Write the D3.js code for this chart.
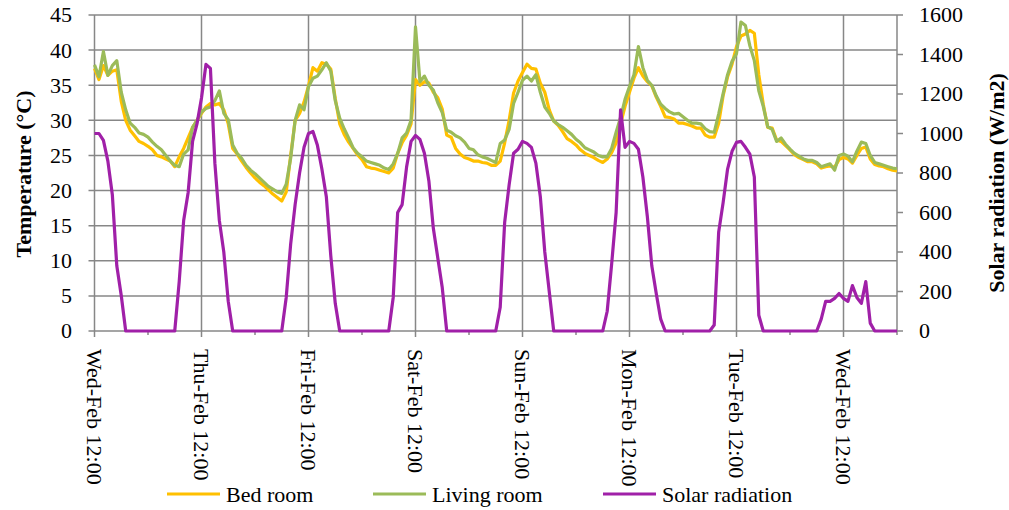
<!DOCTYPE html>
<html>
<head>
<meta charset="utf-8">
<script src="https://cdn.jsdelivr.net/npm/d3@7"></script>
<style>
  body { margin: 0; background: #fff; }
</style>
</head>
<body>
<svg id="chart" width="1009" height="510"></svg>
<script>
// hourly readings, starting Wed-Feb 12:00
const dayLabels = ["Wed-Feb 12:00", "Thu-Feb 12:00", "Fri-Feb 12:00", "Sat-Feb 12:00",
                   "Sun-Feb 12:00", "Mon-Feb 12:00", "Tue-Feb 12:00", "Wed-Feb 12:00"];
const tempTicks = [0, 5, 10, 15, 20, 25, 30, 35, 40, 45];
const solarTicks = [0, 200, 400, 600, 800, 1000, 1200, 1400, 1600];
const stepHours = 1;

const bedRoom = [
  37.4, 35.8, 37.8, 36.4, 37.0, 37.2, 32.7, 30.0, 28.6, 27.8, 27.0, 26.7, 26.3, 25.8, 25.0, 24.8, 24.5, 24.2, 23.4, 24.8, 26.0, 27.5, 29.0, 30.0,
  31.0, 31.9, 32.4, 32.2, 32.4, 31.5, 29.5, 26.0, 25.2, 24.2, 23.3, 22.5, 21.8, 21.2, 20.7, 20.1, 19.5, 19.0, 18.5, 19.8, 25.0, 30.0, 31.0, 32.6,
  34.9, 37.5, 37.0, 38.2, 38.0, 37.3, 33.1, 29.5, 28.0, 26.9, 26.0, 25.1, 24.4, 23.4, 23.2, 23.1, 22.9, 22.7, 22.5, 23.2, 25.3, 26.8, 27.9, 29.5,
  35.8, 35.0, 35.5, 35.3, 34.0, 33.2, 31.6, 27.9, 27.6, 26.0, 25.2, 24.7, 24.5, 24.2, 24.2, 24.0, 23.9, 23.6, 23.6, 24.2, 26.8, 30.0, 33.9, 35.6,
  36.8, 38.0, 37.4, 37.3, 35.3, 34.0, 31.5, 29.9, 29.3, 28.4, 27.4, 27.0, 26.5, 25.8, 25.3, 25.0, 24.7, 24.3, 24.0, 24.5, 25.4, 26.8, 29.5, 32.0,
  34.0, 36.0, 37.5, 36.3, 35.5, 34.9, 33.3, 32.0, 30.5, 30.4, 30.2, 29.6, 29.6, 29.4, 29.2, 28.9, 28.9, 27.9, 27.6, 27.6, 29.6, 33.5, 36.2, 38.0,
  40.5, 42.0, 42.3, 42.8, 42.4, 36.5, 32.3, 29.0, 28.9, 27.2, 27.0, 26.4, 25.8, 25.1, 24.7, 24.4, 24.1, 24.1, 23.8, 23.2, 23.4, 23.5, 23.3, 24.4,
  24.7, 24.5, 23.9, 25.0, 26.0, 26.2, 24.5, 23.7, 23.5, 23.4, 23.1, 22.9, 22.8
];

const livingRoom = [
  37.9, 36.2, 39.8, 36.4, 37.8, 38.5, 34.0, 31.5, 29.6, 29.0, 28.2, 28.0, 27.6, 26.9, 26.3, 25.8, 25.0, 24.2, 23.6, 23.4, 25.2, 25.8, 29.0, 30.0,
  31.2, 31.7, 31.9, 32.8, 34.2, 31.0, 30.1, 26.5, 25.3, 24.6, 23.6, 22.9, 22.4, 21.8, 21.2, 20.6, 20.2, 19.8, 19.6, 20.9, 24.6, 30.0, 32.2, 31.5,
  34.8, 36.0, 36.3, 37.2, 38.2, 37.0, 32.8, 30.3, 28.8, 27.5, 26.1, 25.3, 24.8, 24.2, 24.0, 23.8, 23.6, 23.2, 23.0, 23.8, 25.3, 27.5, 28.2, 30.0,
  43.3, 35.5, 36.3, 35.0, 34.3, 32.5, 31.1, 28.6, 28.3, 27.8, 27.5, 26.9, 26.0, 25.8, 25.1, 24.8, 24.6, 24.3, 24.0, 26.7, 27.2, 28.7, 32.4, 34.0,
  35.7, 36.3, 35.6, 36.5, 34.0, 31.9, 31.0, 29.9, 29.4, 29.0, 28.5, 28.0, 27.3, 26.8, 26.1, 25.8, 25.5, 25.0, 24.8, 24.8, 26.0, 28.3, 30.4, 33.0,
  34.8, 36.5, 40.5, 37.5, 35.7, 35.0, 33.5, 32.3, 31.7, 31.2, 30.9, 31.0, 30.5, 30.0, 29.6, 29.6, 29.5, 28.8, 28.4, 28.3, 30.9, 33.8, 36.5, 38.4,
  39.5, 44.0, 43.5, 40.6, 38.5, 34.2, 32.0, 29.1, 28.7, 27.0, 27.5, 26.6, 25.9, 25.3, 24.9, 24.5, 24.3, 24.3, 24.0, 23.4, 23.6, 23.8, 22.9, 25.0,
  25.2, 24.9, 24.1, 25.6, 26.9, 26.7, 25.0, 24.0, 23.8, 23.6, 23.4, 23.2, 23.1
];

const solarRadiation = [
  1000, 1000, 965, 860, 690, 330, 180, 0, 0, 0, 0, 0, 0, 0, 0, 0, 0, 0, 0, 250, 560, 700, 960, 1050,
  1180, 1350, 1330, 850, 560, 400, 150, 0, 0, 0, 0, 0, 0, 0, 0, 0, 0, 0, 0, 170, 440, 640, 800, 930,
  1000, 1010, 940, 820, 680, 380, 140, 0, 0, 0, 0, 0, 0, 0, 0, 0, 0, 0, 0, 170, 600, 640, 830, 960,
  990, 970, 900, 760, 520, 370, 220, 0, 0, 0, 0, 0, 0, 0, 0, 0, 0, 0, 0, 120, 550, 740, 900, 920,
  960, 950, 930, 850, 680, 400, 200, 0, 0, 0, 0, 0, 0, 0, 0, 0, 0, 0, 0, 100, 340, 600, 1120, 930,
  960, 950, 920, 780, 580, 330, 190, 60, 0, 0, 0, 0, 0, 0, 0, 0, 0, 0, 0, 30, 500, 650, 820, 910,
  955, 960, 930, 895, 780, 80, 0, 0, 0, 0, 0, 0, 0, 0, 0, 0, 0, 0, 0, 60, 150, 150, 165, 190,
  165, 150, 230, 170, 140, 250, 40, 0, 0, 0, 0, 0, 0
];

const colors = { bed: "#FFC000", living: "#9BBB59", solar: "#A020A8", grid: "#878787" };
const serif = "'Liberation Serif', 'Times New Roman', Tinos, serif";

const svg = d3.select("#chart")
  .attr("font-family", serif)
  .style("font-family", serif);
const plotLeft = 94.5, plotRight = 897, plotTop = 15, plotBottom = 331;
const totalHours = (bedRoom.length - 1) * stepHours;

const x = d3.scaleLinear().domain([0, totalHours]).range([plotLeft, plotRight]);
const yT = d3.scaleLinear().domain([0, 45]).range([plotBottom, plotTop]);
const yS = d3.scaleLinear().domain([0, 1600]).range([plotBottom, plotTop]);

const majorHours = dayLabels.map((d, i) => i * 24);
const minorHours = majorHours.map(h => h + 12).filter(h => h <= totalHours);

// horizontal gridlines + left ticks
const grid = svg.append("g");
grid.selectAll(".hgrid").data(tempTicks).enter().append("line")
  .attr("x1", plotLeft - 6).attr("x2", plotRight)
  .attr("y1", d => yT(d)).attr("y2", d => yT(d))
  .attr("stroke", colors.grid).attr("stroke-width", 1.5);

// vertical gridlines at day marks, with ticks below
grid.selectAll(".vgrid").data(majorHours).enter().append("line")
  .attr("x1", d => x(d)).attr("x2", d => x(d))
  .attr("y1", plotTop).attr("y2", plotBottom + 6)
  .attr("stroke", colors.grid).attr("stroke-width", 1.5);
grid.selectAll(".minor").data(minorHours).enter().append("line")
  .attr("x1", d => x(d)).attr("x2", d => x(d))
  .attr("y1", plotBottom).attr("y2", plotBottom + 4)
  .attr("stroke", colors.grid).attr("stroke-width", 1.5);

// right axis line and ticks
grid.append("line")
  .attr("x1", plotRight).attr("x2", plotRight).attr("y1", plotTop).attr("y2", plotBottom)
  .attr("stroke", colors.grid).attr("stroke-width", 1.5);
grid.selectAll(".rtick").data(solarTicks).enter().append("line")
  .attr("x1", plotRight).attr("x2", plotRight + 6)
  .attr("y1", d => yS(d)).attr("y2", d => yS(d))
  .attr("stroke", colors.grid).attr("stroke-width", 1.5);

// tick labels
svg.append("g").selectAll("text").data(tempTicks).enter().append("text")
  .attr("x", 72).attr("y", d => yT(d)).attr("dy", "0.34em")
  .attr("text-anchor", "end").attr("font-size", 22)
  .text(d => d);

svg.append("g").selectAll("text").data(solarTicks).enter().append("text")
  .attr("x", 919).attr("y", d => yS(d)).attr("dy", "0.34em")
  .attr("text-anchor", "start").attr("font-size", 22)
  .text(d => d);

svg.append("g").selectAll("text").data(dayLabels).enter().append("text")
  .attr("transform", (d, i) => `translate(${x(majorHours[i])},349) rotate(90)`)
  .attr("dy", "0.34em").attr("font-size", 22)
  .text(d => d);

// axis titles
svg.append("text")
  .attr("transform", "translate(31,174) rotate(-90)")
  .attr("text-anchor", "middle").attr("font-size", 22).attr("font-weight", "bold")
  .text("Temperature (°C)");
svg.append("text")
  .attr("transform", "translate(1004,183) rotate(-90)")
  .attr("text-anchor", "middle").attr("font-size", 22).attr("font-weight", "bold")
  .text("Solar radiation (W/m2)");

// series
const lineT = d3.line().x((d, i) => x(i * stepHours)).y(d => yT(d));
const lineS = d3.line().x((d, i) => x(i * stepHours)).y(d => yS(d));

const series = [
  { data: bedRoom, line: lineT, color: colors.bed },
  { data: livingRoom, line: lineT, color: colors.living },
  { data: solarRadiation, line: lineS, color: colors.solar }
];
svg.append("g").selectAll("path").data(series).enter().append("path")
  .attr("d", d => d.line(d.data))
  .attr("fill", "none")
  .attr("stroke", d => d.color)
  .attr("stroke-width", 3.2)
  .attr("stroke-linejoin", "round");

// legend
const legendItems = [
  { name: "Bed room", color: colors.bed, x: 167 },
  { name: "Living room", color: colors.living, x: 373 },
  { name: "Solar radiation", color: colors.solar, x: 603 }
];
const lg = svg.append("g").selectAll("g").data(legendItems).enter().append("g")
  .attr("transform", d => `translate(${d.x},494)`);
lg.append("line").attr("x1", 0).attr("x2", 53)
  .attr("stroke", d => d.color).attr("stroke-width", 3);
lg.append("text").attr("x", 59).attr("y", 1).attr("dy", "0.34em")
  .attr("font-size", 22).text(d => d.name);
</script>
</body>
</html>
